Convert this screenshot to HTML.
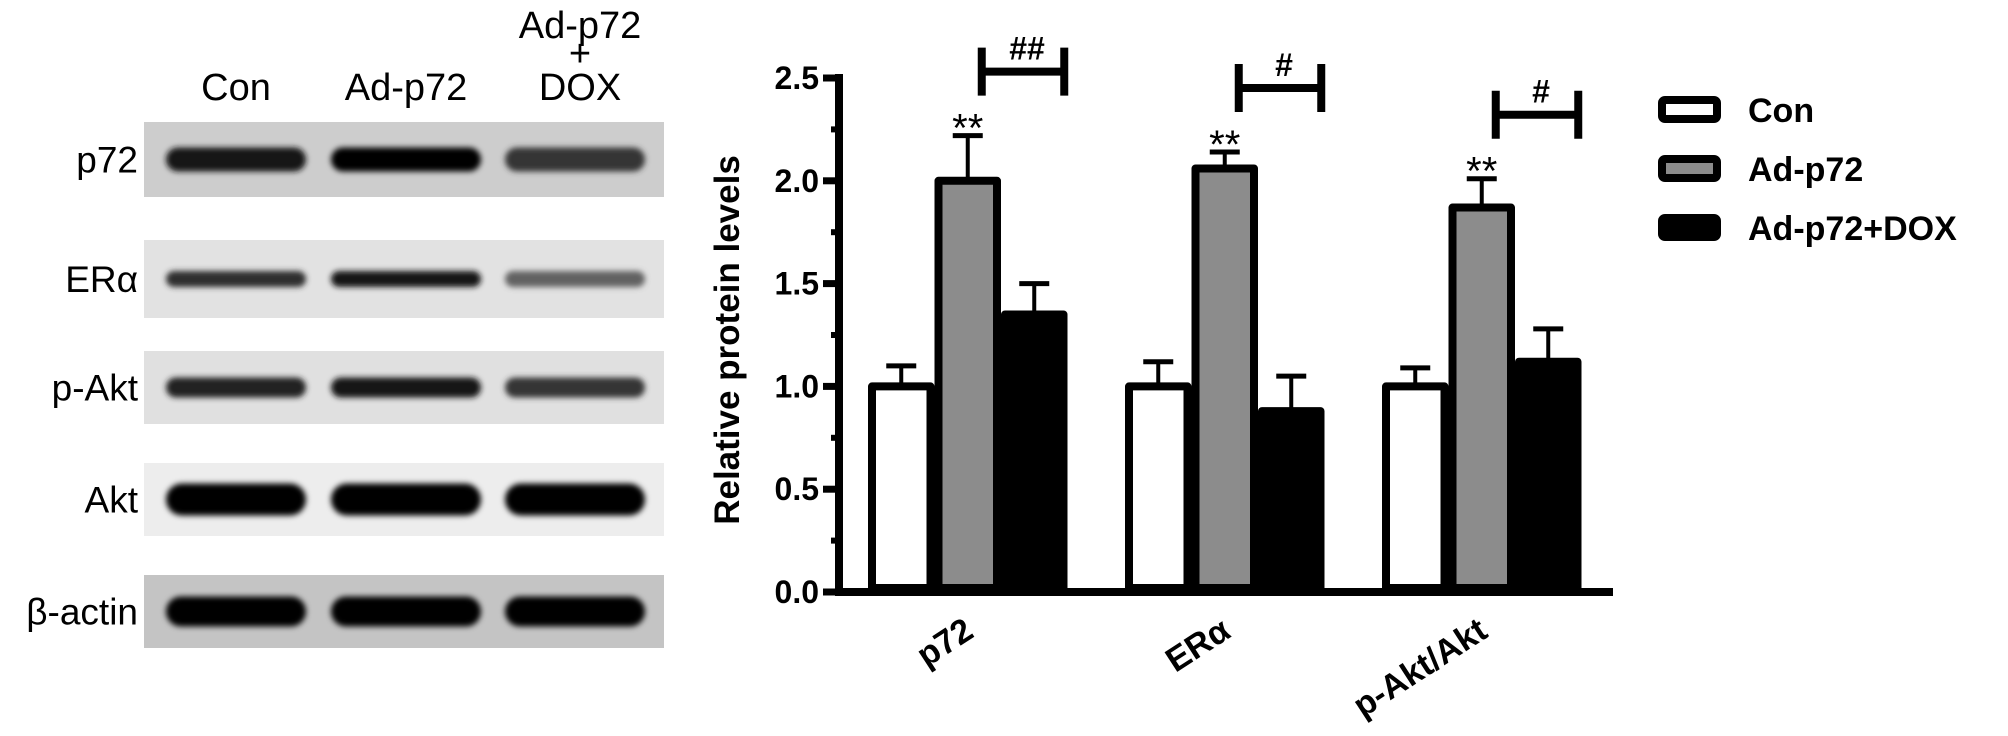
<!DOCTYPE html>
<html><head><meta charset="utf-8"><style>
html,body{margin:0;padding:0;background:#fff;}
svg{display:block;font-family:"Liberation Sans",sans-serif;}
</style></head><body>
<svg width="2008" height="736" viewBox="0 0 2008 736">
<defs>
<filter id="blur" x="-20%" y="-100%" width="140%" height="300%"><feGaussianBlur stdDeviation="3"/></filter>
</defs>
<g id="blot">
  <text x="236" y="100" font-size="38" text-anchor="middle">Con</text>
  <text x="406" y="100" font-size="38" text-anchor="middle">Ad-p72</text>
  <text x="580" y="38" font-size="38" text-anchor="middle">Ad-p72</text>
  <text x="580" y="66" font-size="38" text-anchor="middle">+</text>
  <text x="580" y="100" font-size="38" text-anchor="middle">DOX</text>
</g>
<g id="chart"></g>
</svg>
<script>
const categories = ["p72", "ERα", "p-Akt/Akt"];
const seriesNames = ["Con", "Ad-p72", "Ad-p72+DOX"];
const conValues = [1.0, 1.0, 1.0];
const conErrors = [1.10, 1.12, 1.09];
const adValues = [2.0, 2.06, 1.87];
const adErrors = [2.22, 2.14, 2.01];
const doxValues = [1.35, 0.88, 1.12];
const doxErrors = [1.50, 1.05, 1.28];
const yTicks = ["0.0", "0.5", "1.0", "1.5", "2.0", "2.5"];
const starLabels = ["**", "**", "**"];
const hashLabels = ["##", "#", "#"];
const blotRows = ["p72", "ERα", "p-Akt", "Akt", "β-actin"];
const blotIntensity = [[0.9, 1.0, 0.7], [0.75, 0.9, 0.45], [0.8, 0.9, 0.7], [1.0, 1.0, 1.0], [1.0, 1.0, 1.0]];

const NS = "http://www.w3.org/2000/svg";
function mk(tag, attrs, parent) {
  const e = document.createElementNS(NS, tag);
  for (const k in attrs) e.setAttribute(k, attrs[k]);
  parent.appendChild(e);
  return e;
}

// blot
const blot = document.getElementById('blot');
const rowTop = [122, 240, 351, 463, 575];
const rowH = [75, 78, 73, 73, 73];
const stripBg = ["#cdcdcd", "#e2e2e2", "#e0e0e0", "#ededed", "#c4c4c4"];
const bandH = [24, 16, 20, 32, 30];
const laneX = [236, 406, 575];
const laneW = [140, 150, 140];
blotRows.forEach((r, i) => {
  const s = mk('rect', {x: 144, y: rowTop[i], width: 520, height: rowH[i], fill: stripBg[i]}, blot);
  
  
  const t = mk('text', {x: 138, y: rowTop[i] + rowH[i] / 2 + 13, 'font-size': 37, 'text-anchor': 'end'}, blot);
  t.textContent = r;
  
  
  blotIntensity[i].forEach((v, j) => {
    const g = Math.round(255 * (1 - v) * 0.7);
    const b = mk('rect', {x: laneX[j] - laneW[j] / 2, y: rowTop[i] + rowH[i] / 2 - bandH[i] / 2, width: laneW[j], height: bandH[i], rx: bandH[i] / 2, fill: `rgb(${g},${g},${g})`, filter: 'url(#blur)'}, blot);
    
    
  });
});

// chart
const chart = document.getElementById('chart');
const axisX = 839, y0 = 592, y25 = 78;
const yMax = 2.5;
function yScale(v) { return y0 - (y0 - y25) * v / yMax; }
const band = 257, barW = 66.5, padL = 29;
function xBar(ci, si) { return axisX + band * ci + padL + barW * si; }

const ya = mk('line', {x1: axisX, y1: y25 - 4, x2: axisX, y2: y0 + 4, stroke: '#000', 'stroke-width': 8}, chart);


const xa = mk('line', {x1: axisX - 4, y1: y0, x2: 1613, y2: y0, stroke: '#000', 'stroke-width': 8}, chart);


yTicks.forEach((lab, i) => {
  const v = parseFloat(lab);
  const y = yScale(v);
  const tk = mk('line', {x1: axisX - 16, y1: y, x2: axisX, y2: y, stroke: '#000', 'stroke-width': 7}, chart);
  
  
  const t = mk('text', {x: axisX - 20, y: y + 11, 'font-size': 32, 'font-weight': 'bold', 'text-anchor': 'end'}, chart);
  t.textContent = lab;
  
  
  if (i < yTicks.length - 1) {
    const m = yScale(v + 0.25);
    const mt = mk('line', {x1: axisX - 8, y1: m, x2: axisX, y2: m, stroke: '#000', 'stroke-width': 6}, chart);
    
    
  }
});
const yt = mk('text', {x: 0, y: 0, 'font-size': 35, 'font-weight': 'bold', 'text-anchor': 'middle', transform: `translate(${axisX - 100},${(y0 + y25) / 2 + 5}) rotate(-90)`}, chart);
yt.textContent = 'Relative protein levels';



const series = [
  {vals: conValues, errs: conErrors, fill: '#fff'},
  {vals: adValues, errs: adErrors, fill: '#8c8c8c'},
  {vals: doxValues, errs: doxErrors, fill: '#000'}
];
categories.forEach((c, ci) => {
  series.forEach((s, si) => {
    const x = xBar(ci, si), cx = x + barW / 2;
    const top = yScale(s.vals[ci]);
    const ey = yScale(s.errs[ci]);
    const el = mk('line', {x1: cx, y1: ey, x2: cx, y2: top, stroke: '#000', 'stroke-width': 4}, chart);
    
    
    const cap = mk('line', {x1: cx - 15, y1: ey, x2: cx + 15, y2: ey, stroke: '#000', 'stroke-width': 5}, chart);
    
    
    const r = mk('rect', {x: x + 4, y: top, width: barW - 8, height: y0 - top - 4, fill: s.fill, stroke: '#000', 'stroke-width': 8, 'stroke-linejoin': 'round'}, chart);
    
    
  });
  const gx = xBar(ci, 1) + barW / 2;
  const st = mk('text', {x: gx, y: yScale(adErrors[ci]) + 6, 'font-size': 40, 'text-anchor': 'middle'}, chart);
  st.textContent = starLabels[ci];
  
  
  const bl = gx + 14, br = xBar(ci, 2) + barW / 2 + 30;
  const by = yScale(adErrors[ci]) - 64;
  const bk = mk('path', {d: `M${bl},${by - 24}V${by + 24}M${bl},${by}H${br}M${br},${by - 24}V${by + 24}`, stroke: '#000', 'stroke-width': 8, fill: 'none'}, chart);
  
  
  const ht = mk('text', {x: (bl + br) / 2 + 4, y: by - 12, 'font-size': 32, 'font-weight': 'bold', 'text-anchor': 'middle'}, chart);
  ht.textContent = hashLabels[ci];
  
  
  const ex = axisX + band * ci + band / 2 + 8;
  const cl = mk('text', {x: 0, y: 0, 'font-size': 34, 'font-weight': 'bold', 'text-anchor': 'end', transform: `translate(${ex},${y0 + 44}) rotate(-33)`}, chart);
  cl.textContent = c;
  
  
});

const legY = [96, 155, 214];
seriesNames.forEach((n, i) => {
  const b = mk('rect', {x: 1662, y: legY[i] + 4, width: 55, height: 19, rx: 3, fill: series[i].fill, stroke: '#000', 'stroke-width': 8}, chart);
  
  
  const t = mk('text', {x: 1748, y: legY[i] + 26, 'font-size': 34, 'font-weight': 'bold'}, chart);
  t.textContent = n;
  
  
});
</script>
</body></html>
